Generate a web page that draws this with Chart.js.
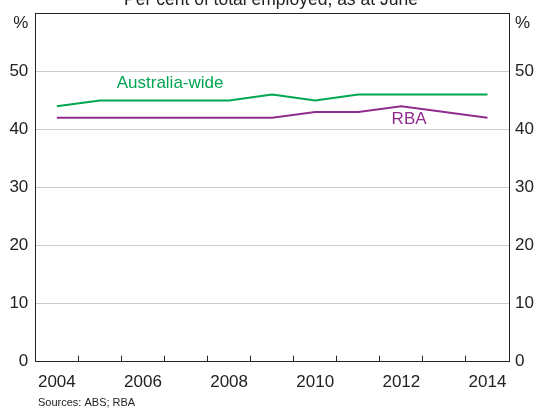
<!DOCTYPE html>
<html>
<head>
<meta charset="utf-8">
<script src="https://cdn.jsdelivr.net/npm/chart.js@4/dist/chart.umd.min.js"></script>
<style>
  html, body { margin: 0; padding: 0; background: #fff; }
  #wrap { width: 538px; height: 410px; }
</style>
</head>
<body>
<div id="wrap"><canvas id="chart" width="538" height="410"></canvas></div>
<script>
// years, as at June
const years = ['2004', '2005', '2006', '2007', '2008', '2009', '2010', '2011', '2012', '2013', '2014'];
const australiaWide = [44, 45, 45, 45, 45, 46, 45, 46, 46, 46, 46];
const rba = [42, 42, 42, 42, 42, 42, 43, 43, 44, 43, 42];
const yTicks = [0, 10, 20, 30, 40, 50, 60];

const GREEN = '#00a651';
const PURPLE = '#912c8f';
const FONT = '"Liberation Sans", Arial, sans-serif';

// title (cut off at the top), series labels and source note
const annotations = {
  id: 'annotations',
  afterDraw(chart) {
    const { ctx, scales } = chart;
    ctx.save();
    ctx.fillStyle = '#222';
    ctx.font = '17.5px ' + FONT;
    ctx.textAlign = 'center';
    ctx.textBaseline = 'alphabetic';
    ctx.fillText('Per cent of total employed, as at June', 271, 5);

    ctx.font = '17px ' + FONT;
    ctx.textBaseline = 'middle';
    ctx.fillStyle = GREEN;
    ctx.fillText('Australia-wide', scales.x.getPixelForValue(2.63), scales.y.getPixelForValue(48));
    ctx.fillStyle = PURPLE;
    ctx.fillText('RBA', scales.x.getPixelForValue(8.18), scales.y.getPixelForValue(41.7));

    ctx.fillStyle = '#222';
    ctx.font = '11px ' + FONT;
    ctx.textAlign = 'left';
    ctx.fillText('Sources: ABS; RBA', 38, 403);
    ctx.restore();
  }
};

const yLabel = (v) => v === 60 ? ['', '%'] : String(v);
const noPad = (s) => { s.paddingTop = 0; s.paddingBottom = 0; s.paddingLeft = 0; s.paddingRight = 0; };

new Chart(document.getElementById('chart'), {
  type: 'line',
  data: {
    labels: years,
    datasets: [
      { label: 'Australia-wide', data: australiaWide, borderColor: GREEN, borderWidth: 2, pointRadius: 0, tension: 0 },
      { label: 'RBA', data: rba, borderColor: PURPLE, borderWidth: 2, pointRadius: 0, tension: 0 }
    ]
  },
  options: {
    responsive: false,
    animation: false,
    layout: { padding: { top: 13.3, left: 0, right: 0, bottom: 0 } },
    plugins: { legend: { display: false }, tooltip: { enabled: false }, title: { display: false } },
    scales: {
      x: {
        type: 'category',
        offset: true,
        afterFit: (s) => { s.height = 48.3; noPad(s); },
        grid: { offset: true, drawOnChartArea: false, drawTicks: true, tickLength: -6, color: '#222', lineWidth: 1 },
        border: { display: true, color: '#222', width: 1 },
        ticks: {
          autoSkip: false,
          maxRotation: 0,
          padding: 16,
          color: '#222',
          font: { size: 17, family: FONT },
          callback: (v, i) => (i % 2 === 0 ? years[i] : '')
        }
      },
      y: {
        position: 'left',
        min: 0,
        max: 60,
        afterFit: (s) => { s.width = 35.3; noPad(s); },
        afterBuildTicks: (s) => { s.ticks = yTicks.map(v => ({ value: v })); },
        grid: {
          drawTicks: false,
          color: (c) => (c.tick && (c.tick.value === 60) ? '#222' : '#cccccc'),
          lineWidth: 1
        },
        border: { display: true, color: '#222', width: 1 },
        ticks: { padding: 7, color: '#222', font: { size: 17, family: FONT }, callback: yLabel }
      },
      y2: {
        position: 'right',
        min: 0,
        max: 60,
        afterFit: (s) => { s.width = 29; noPad(s); },
        afterBuildTicks: (s) => { s.ticks = yTicks.map(v => ({ value: v })); },
        grid: { drawOnChartArea: false, drawTicks: false },
        border: { display: true, color: '#222', width: 1 },
        ticks: { padding: 6, color: '#222', font: { size: 17, family: FONT }, callback: yLabel }
      }
    }
  },
  plugins: [annotations]
});
</script>
</body>
</html>
